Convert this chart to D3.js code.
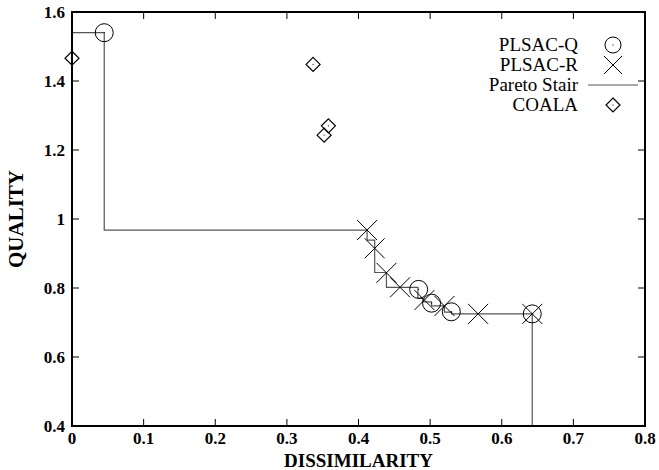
<!DOCTYPE html>
<html><head><meta charset="utf-8">
<script src="https://cdn.jsdelivr.net/npm/d3@7"></script>
<style>body{margin:0;background:#fff} svg text{font-family:"Liberation Serif","DejaVu Serif","Times New Roman",Times,serif;}</style>
</head><body>
<script>
const xTicks=[0,0.1,0.2,0.3,0.4,0.5,0.6,0.7,0.8];
const yTicks=[0.4,0.6,0.8,1.0,1.2,1.4,1.6];
const plsacQX=[0.045,0.484,0.502,0.5296,0.6426];
const plsacQY=[1.54,0.796,0.756,0.731,0.725];
const plsacRX=[0.412,0.4226,0.439,0.458,0.492,0.520,0.567,0.6426];
const plsacRY=[0.968,0.915,0.844,0.802,0.765,0.748,0.725,0.725];
const coalaX=[0,0.3366,0.358,0.352];
const coalaY=[1.466,1.448,1.270,1.243];
const stairX=[0,0.045,0.412,0.4226,0.439,0.483,0.490,0.502,0.520,0.530,0.6426];
const stairY=[1.54,0.968,0.939,0.845,0.802,0.770,0.760,0.748,0.730,0.725,0.4];
const legendLabels=["PLSAC-Q","PLSAC-R","Pareto Stair","COALA"];

const W=659,H=470,L=72,R=645,T=12,B=426;
const svg=d3.select("body").append("svg").attr("width",W).attr("height",H);
const x=d3.scaleLinear().domain([0,0.8]).range([L,R]);
const y=d3.scaleLinear().domain([0.4,1.6]).range([B,T]);

const tl=7;
const g=svg.append("g").attr("stroke","#000").attr("stroke-width",1);
xTicks.forEach(v=>{g.append("line").attr("x1",x(v)).attr("x2",x(v)).attr("y1",B).attr("y2",B-tl);
 g.append("line").attr("x1",x(v)).attr("x2",x(v)).attr("y1",T).attr("y2",T+tl);});
yTicks.forEach(v=>{g.append("line").attr("x1",L).attr("x2",L+tl).attr("y1",y(v)).attr("y2",y(v));
 g.append("line").attr("x1",R).attr("x2",R-tl).attr("y1",y(v)).attr("y2",y(v));});

const stairPts=stairX.map((v,i)=>[v,stairY[i]]);
svg.append("path").datum(stairPts)
  .attr("d",d3.line().x(d=>x(d[0])).y(d=>y(d[1])).curve(d3.curveStepAfter))
  .attr("fill","none").attr("stroke","#555").attr("stroke-width",1.2);

svg.append("rect").attr("x",L).attr("y",T).attr("width",R-L).attr("height",B-T)
  .attr("fill","none").attr("stroke","#000").attr("stroke-width",2);

function circ(sel,cx,cy,r){sel.append("circle").attr("cx",cx).attr("cy",cy).attr("r",r)
  .attr("fill","none").attr("stroke","#000").attr("stroke-width",1);
  sel.append("rect").attr("x",cx-0.5).attr("y",cy-0.5).attr("width",1).attr("height",1).attr("fill","#000");}
function cross(sel,cx,cy,s){sel.append("path").attr("d",`M${cx-s},${cy-s}L${cx+s},${cy+s}M${cx-s},${cy+s}L${cx+s},${cy-s}`)
  .attr("stroke","#000").attr("stroke-width",1).attr("fill","none");}
function diam(sel,cx,cy,s){sel.append("path").attr("d",`M${cx},${cy-s}L${cx+s},${cy}L${cx},${cy+s}L${cx-s},${cy}Z`)
  .attr("stroke","#000").attr("stroke-width",1.2).attr("fill","none");
  sel.append("rect").attr("x",cx-0.5).attr("y",cy-0.5).attr("width",1).attr("height",1).attr("fill","#000");}

const m=svg.append("g");
plsacQX.forEach((v,i)=>circ(m,x(v),y(plsacQY[i]),9));
plsacRX.forEach((v,i)=>cross(m,x(v),y(plsacRY[i]),10));
coalaX.forEach((v,i)=>diam(m,x(v),y(coalaY[i]),7));

const tf=svg.append("g").attr("font-size",17).attr("font-weight","bold").attr("fill","#000");
xTicks.forEach(v=>tf.append("text").attr("x",x(v)).attr("y",B+18).attr("text-anchor","middle").text(d3.format("")(+v.toFixed(1))));
yTicks.forEach(v=>tf.append("text").attr("x",L-7).attr("y",y(v)+6).attr("text-anchor","end").text(d3.format("")(+v.toFixed(1))));

svg.append("text").attr("x",x(0.4)).attr("y",H-3).attr("text-anchor","middle")
  .attr("font-size",19).attr("font-weight","bold").text("DISSIMILARITY");
svg.append("text").attr("transform",`translate(23,${(T+B)/2}) rotate(-90)`).attr("text-anchor","middle")
  .attr("font-size",21).attr("font-weight","bold").text("QUALITY");

const lg=svg.append("g").attr("font-size",19);
const lys=[45,65,85,105];
legendLabels.forEach((t,i)=>lg.append("text").attr("x",578).attr("y",lys[i]+6).attr("text-anchor","end").text(t));
circ(lg,613,lys[0],8);
cross(lg,613,lys[1],9);
lg.append("line").attr("x1",588).attr("x2",638).attr("y1",lys[2]).attr("y2",lys[2]).attr("stroke","#555").attr("stroke-width",1.2);
diam(lg,613,lys[3],7);
</script>
</body></html>
